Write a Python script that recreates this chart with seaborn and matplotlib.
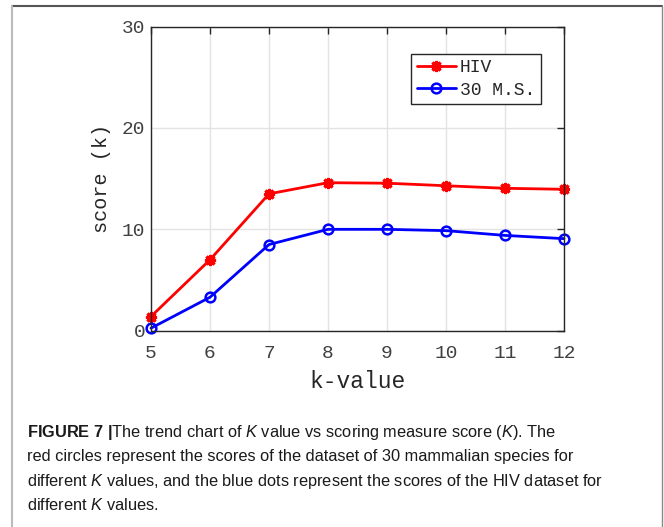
import pandas as pd
import seaborn as sns
import matplotlib.pyplot as plt
from matplotlib.lines import Line2D

k_values = [5, 6, 7, 8, 9, 10, 11, 12]
hiv_scores = [1.4, 7.0, 13.5, 14.6, 14.55, 14.3, 14.05, 13.95]
ms_scores = [0.25, 3.3, 8.5, 10.0, 10.0, 9.87, 9.4, 9.08]
y_ticks = [0, 10, 20, 30]

df = pd.DataFrame({
    'k-value': k_values * 2,
    'score': hiv_scores + ms_scores,
    'dataset': ['HIV'] * len(k_values) + ['30 M.S.'] * len(k_values),
})

sns.set_theme(style='whitegrid')
mono = ['Liberation Mono', 'DejaVu Sans Mono']
sans = ['Liberation Sans', 'DejaVu Sans']
plt.rcParams['font.family'] = mono
plt.rcParams['mathtext.fontset'] = 'custom'
plt.rcParams['mathtext.rm'] = sans[0]
plt.rcParams['mathtext.it'] = sans[0] + ':italic'
plt.rcParams['mathtext.bf'] = sans[0] + ':bold'

fig = plt.figure(figsize=(6.64, 5.27), dpi=100)
ax = fig.add_axes([0.2274, 0.3725, 0.622, 0.577])

sns.lineplot(data=df[df.dataset == 'HIV'], x='k-value', y='score', ax=ax,
             color='#ff0000', marker=(8, 2, 0), markersize=8, markeredgecolor='#ff0000',
             markeredgewidth=2.2, linewidth=2, label='HIV', clip_on=False)
sns.lineplot(data=df[df.dataset == '30 M.S.'], x='k-value', y='score', ax=ax,
             color='#0000ff', marker='o', markersize=7, markerfacecolor='none',
             markeredgecolor='#0000ff', markeredgewidth=1.8, linewidth=2, label='30 M.S.',
             clip_on=False)

ax.set_xlim(5, 12)
ax.set_ylim(0, 30)
ax.set_xticks(k_values)
ax.set_yticks(y_ticks)
ax.set_facecolor('white')
ax.grid(True, color='#e3e3e3', linewidth=1)
for s in ax.spines.values():
    s.set_color('#262626')
    s.set_linewidth(1)
ax.tick_params(direction='in', length=5, width=1, color='#262626', labelsize=14,
               labelcolor='#404040', top=True, right=True)
ax.tick_params(axis='x', pad=10)
ax.tick_params(axis='y', pad=4)
ax.set_xlabel('k-value', fontsize=16.5, color='#262626', labelpad=6)
ax.set_ylabel('score (k)', fontsize=14.5, color='#262626', labelpad=8)

leg = ax.legend(loc='upper left', bbox_to_anchor=(0.63, 0.91), fontsize=13,
                frameon=True, fancybox=False, edgecolor='#262626', framealpha=1,
                handlelength=2.2, handletextpad=0.2, borderpad=0.3, labelspacing=0.3,
                borderaxespad=0)
leg.get_frame().set_linewidth(1)
for t in leg.get_texts():
    t.set_color('#262626')

# page frame
fig.add_artist(Line2D([12 / 664, 662 / 664], [521 / 527, 521 / 527], color='#555555', lw=1.5))
fig.add_artist(Line2D([12 / 664, 12 / 664], [0, 521 / 527], color='#bbbbbb', lw=1.5))
fig.add_artist(Line2D([662 / 664, 662 / 664], [0, 521 / 527], color='#888888', lw=1))

caption = [
    r'$\mathbf{FIGURE\ 7\ |}$The trend chart of $\mathit{K}$ value vs scoring measure score ($\mathit{K}$). The',
    'red circles represent the scores of the dataset of 30 mammalian species for',
    r'different $\mathit{K}$ values, and the blue dots represent the scores of the HIV dataset for',
    r'different $\mathit{K}$ values.',
]
for i, line in enumerate(caption):
    fig.text(27 / 664, 1 - (437 + i * 24.5) / 527, line, fontsize=11.8, family=sans,
             color='#1a1a1a', va='baseline', ha='left')

plt.savefig('out.png', dpi=100)
